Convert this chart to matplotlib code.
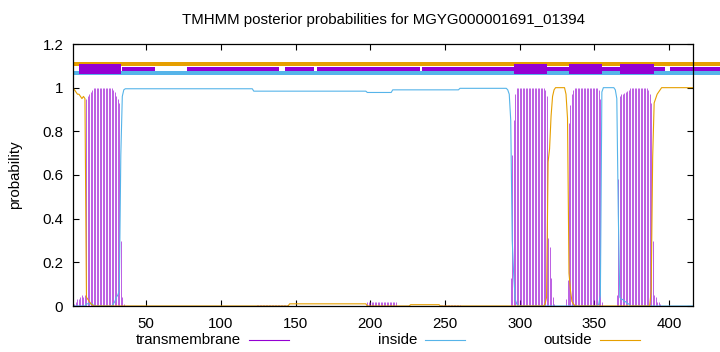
import matplotlib
matplotlib.use('Agg')
import matplotlib.pyplot as plt
from matplotlib.lines import Line2D
from matplotlib.patches import Rectangle
import numpy as np

plt.rcParams['font.family'] = ['Liberation Sans', 'DejaVu Sans']
plt.rcParams['font.size'] = 10.8

title = 'TMHMM posterior probabilities for MGYG000001691_01394'
seq_len = 416

# posterior probabilities per residue
tm = ([0.00, 0.01, 0.02, 0.03, 0.03, 0.04, 0.05, 0.04, 0.05, 0.95, 0.96, 0.97, 0.98, 0.99]
      + [1.0] * 13
      + [0.99, 0.98, 0.96, 0.95, 0.93, 0.30, 0.04, 0.01]
      + [0.0] * 88 + [0.006] * 22 + [0.0] * 52 + [0.018] * 20
      + [0.0] * 29 + [0.006] * 14 + [0.0] * 33
      + [0.13, 0.69, 0.85, 0.97]
      + [1.0] * 19
      + [0.99, 0.96, 0.31, 0.27, 0.13, 0.04, 0.01]
      + [0.0] * 7
      + [0.03, 0.12, 0.84, 0.92, 0.97, 0.99]
      + [1.0] * 16
      + [0.99, 0.95, 0.02]
      + [0.0] * 9
      + [0.05, 0.58, 0.96, 0.97, 0.97, 0.975, 0.98, 0.985, 0.99]
      + [1.0] * 12
      + [0.99, 0.97, 0.93, 0.30, 0.05, 0.04, 0.02, 0.02, 0.01]
      + [0.0] * 22)

inside = ([0.0] * 9 + [0.01] * 5 + [0.0] * 13
          + [0.01, 0.02, 0.04, 0.05, 0.07, 0.69, 0.96, 0.99]
          + [0.995] * 86 + [0.984] * 76 + [0.978] * 17 + [0.99] * 45 + [0.997] * 32
          + [0.99, 0.97, 0.85, 0.30, 0.14, 0.03, 0.01]
          + [0.0] * 54
          + [0.01, 0.05, 0.98]
          + [1.0] * 8
          + [0.99, 0.95, 0.42, 0.04, 0.03, 0.03, 0.02, 0.02, 0.01, 0.01]
          + [0.0] * 43)

outside = ([1.00, 0.99, 0.98, 0.97, 0.97, 0.96, 0.95, 0.96, 0.95, 0.04, 0.03, 0.02, 0.01, 0.005]
           + [0.0] * 131 + [0.01] * 52 + [0.0] * 29 + [0.006] * 20 + [0.0] * 70
           + [0.01, 0.04, 0.66, 0.72, 0.87, 0.96, 0.99]
           + [1.0] * 7
           + [0.97, 0.86, 0.15, 0.07, 0.02, 0.01]
           + [0.0] * 51
           + [0.07, 0.68, 0.93, 0.95, 0.97, 0.98, 0.99]
           + [1.0] * 22)

# predicted topology bars above the plot (residue ranges)
tm_boxes = [(5, 33), (296, 318), (333, 355), (367, 390)]
thin_segments = [(34, 56), (77, 139), (143, 162.5), (164, 233.4), (234.5, 296),
                 (318, 333), (355, 367), (390, 397.4), (400.3, 434)]
bar_end = 434

res = np.arange(1, seq_len + 1)
c_tm = '#9400D3'
c_in = '#56B4E9'
c_out = '#E69F00'

fig = plt.figure(figsize=(7.2, 3.52), dpi=100)
ax = fig.add_axes([73 / 720, 1 - 306 / 352, 620 / 720, 262 / 352])

ax.vlines(res, 0, tm, color=c_tm, lw=0.55, alpha=0.8)
ax.plot(res, inside, color=c_in, lw=0.8)
ax.plot(res, outside, color=c_out, lw=0.8)

ax.set_xlim(1, seq_len)
ax.set_ylim(0, 1.2)

# top bars
ax.add_patch(Rectangle((1, 1.0986), bar_end - 1, 0.0169, color=c_out, lw=0, clip_on=False))
ax.add_patch(Rectangle((1, 1.0594), bar_end - 1, 0.0150, color=c_in, lw=0, clip_on=False))
for a, b in thin_segments:
    ax.add_patch(Rectangle((a, 1.0744), b - a, 0.0215, color=c_tm, lw=0, clip_on=False))
for a, b in tm_boxes:
    ax.add_patch(Rectangle((a, 1.0626), b - a, 0.047, color=c_tm, lw=0, clip_on=False))

ax.set_xticks([50, 100, 150, 200, 250, 300, 350, 400])
ax.set_yticks([0, 0.2, 0.4, 0.6, 0.8, 1.0, 1.2])
ax.set_yticklabels(['0', '0.2', '0.4', '0.6', '0.8', '1', '1.2'])
ax.tick_params(direction='in', length=4, width=0.8, top=True, right=True, pad=7)
ax.tick_params(axis='x', pad=8)
for s in ax.spines.values():
    s.set_linewidth(0.9)

fig.text(383 / 720, 1 - 20 / 352, title, ha='center', va='center')
fig.text(15 / 720, 1 - 175 / 352, 'probability', rotation=90, ha='center', va='center')

# legend drawn gnuplot-style: label then line sample
leg_y = 1 - 340 / 352
for label, color, xr in (('transmembrane', c_tm, 241), ('inside', c_in, 417), ('outside', c_out, 592)):
    fig.text(xr / 720, leg_y, label, ha='right', va='center')
    fig.add_artist(Line2D([(xr + 8) / 720, (xr + 48) / 720], [leg_y, leg_y],
                          color=color, lw=0.8, transform=fig.transFigure))

fig.savefig('out.png', dpi=100)
